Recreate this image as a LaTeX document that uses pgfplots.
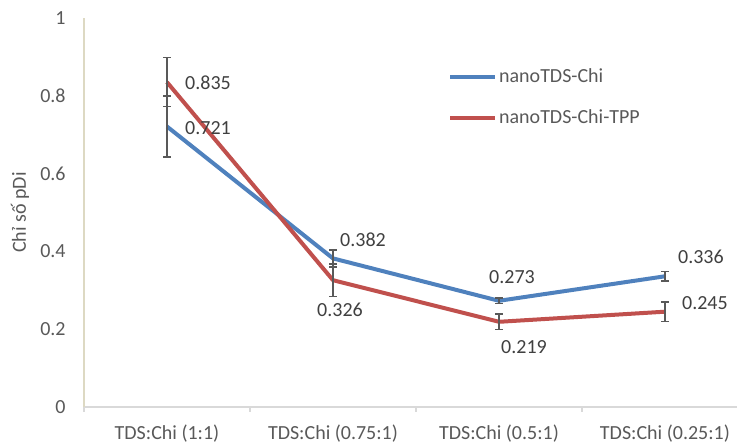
\documentclass[border=0pt]{standalone}
\usepackage{pgfplots}
\pgfplotsset{compat=1.18}
\usepackage{pgfplotstable}
\usepackage{fontspec}
\setmainfont{Carlito}
\definecolor{cblue}{HTML}{4F81BD}
\definecolor{cred}{HTML}{C0504D}
\definecolor{ctick}{HTML}{595959}
\definecolor{clab}{HTML}{404040}
\definecolor{cxax}{HTML}{D9D9D9}
\definecolor{cyax}{HTML}{DDD9C3}
\definecolor{cerr}{HTML}{595959}

\pgfplotstableread{
x y e dx dy
0 0.721 0.078 20.5 -0.75
1 0.382 0.022 15 9.2
2 0.273 0.007 6.5 11.9
3 0.336 0.012 18 9.7
}\bluedata
\pgfplotstableread{
x y e dx dy
0 0.835 0.063 20.5 -0.4
1 0.326 0.042 3.5 -14.9
2 0.219 0.020 12.5 -12.6
3 0.245 0.025 20 4.35
}\reddata

\begin{document}
\begin{tikzpicture}
\begin{axis}[
  name=ax,
  scale only axis,
  width=326.5pt, height=194.5pt,
  xmin=-0.5, xmax=3.434,
  ymin=0, ymax=1,
  clip=false,
  axis x line=bottom, axis y line=left,
  x axis line style={draw=cxax, line width=0.75pt, -},
  y axis line style={draw=cyax, line width=0.75pt, -},
  xtick={0,1,2,3},
  xticklabels={TDS:Chi (1:1), TDS:Chi (0.75:1), TDS:Chi (0.5:1), TDS:Chi (0.25:1)},
  minor xtick={-0.5,0.5,1.5,2.5},
  ytick={0,0.2,0.4,0.6,0.8,1},
  major tick length=0pt,
  minor tick length=2.5pt,
  tick align=outside,
  minor tick style={draw=cxax, line width=0.75pt},
  /pgf/number format/assume math mode=true,
  yticklabel style={/pgf/number format/fixed, /pgf/number format/precision=1, text=ctick, inner sep=0pt, anchor=east, xshift=-9pt},
  xticklabel style={text=ctick, inner sep=0pt, anchor=base, yshift=-16.5pt},
  ylabel={Chỉ số pDi},
  ylabel style={at={(axis description cs:0,0.5)}, anchor=center, rotate=0, yshift=32pt, text=ctick},
  legend style={at={(rel axis cs:0.557,0.875)}, anchor=north west, draw=none, fill=none,
    text=ctick, row sep=10pt, inner sep=0pt, nodes={inner sep=1pt}},
  legend cell align=left,
  legend image code/.code={\draw[#1, line width=2pt] (0pt,0pt) -- (22.5pt,0pt);},
  nodes near coords={\pgfmathprintnumber[fixed, precision=3]{\pgfplotspointmeta}},
  visualization depends on={\thisrow{dx} \as \dx},
  visualization depends on={\thisrow{dy} \as \dy},
  nodes near coords style={anchor=center, xshift=\dx pt, yshift=\dy pt, text=clab, inner sep=0pt},
]
\addplot[color=cblue, line width=2pt, line join=round, mark=none,
  error bars/.cd, y dir=both, y explicit,
  error bar style={color=cerr, line width=0.8pt},
  error mark options={rotate=90, mark size=1.8pt, line width=0.8pt, color=cerr}]
  table[x=x, y=y, y error=e] {\bluedata};
\addlegendentry{nanoTDS-Chi}
\addplot[color=cred, line width=2pt, line join=round, mark=none,
  error bars/.cd, y dir=both, y explicit,
  error bar style={color=cerr, line width=0.8pt},
  error mark options={rotate=90, mark size=1.8pt, line width=0.8pt, color=cerr}]
  table[x=x, y=y, y error=e] {\reddata};
\addlegendentry{nanoTDS-Chi-TPP}
\end{axis}
\pgfresetboundingbox
\path[use as bounding box] ([xshift=-42pt,yshift=-18pt]ax.south west) rectangle ([yshift=9pt]ax.north east);
\end{tikzpicture}
\end{document}
